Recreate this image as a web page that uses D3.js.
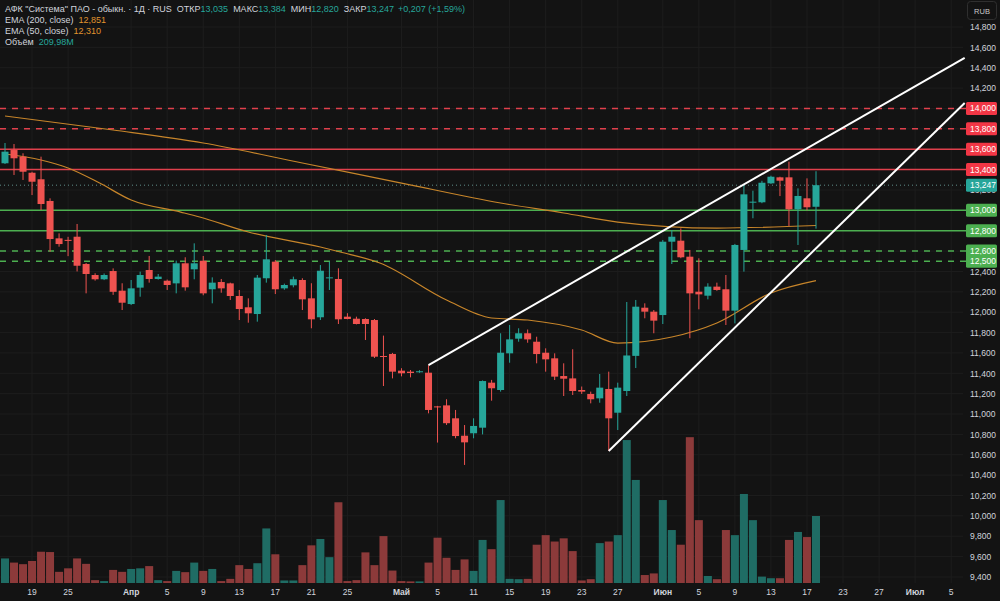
<!DOCTYPE html>
<html>
<head>
<meta charset="utf-8">
<script src="https://cdn.jsdelivr.net/npm/d3@7"></script>
<style>
  body { margin: 0; background: #131313; }
  svg { display: block; }
  text { font-family: "Liberation Sans", Arial, sans-serif; }
</style>
</head>
<body>
<div id="chart"></div>
<script>
// daily bars, index 0 = Mar 14, last = Jun 18
const open  = [13.462,13.592,13.527,13.369,13.305,13.092,12.725,12.710,12.741,12.473,
               12.365,12.323,12.404,12.211,12.080,12.241,12.414,12.326,12.309,12.283,
               12.480,12.421,12.505,12.225,12.296,12.283,12.159,12.048,11.982,12.333,
               12.496,12.234,12.264,12.316,12.136,11.950,12.335,12.326,11.956,11.936,
               11.933,11.923,11.570,11.590,11.426,11.416,11.410,11.406,11.075,11.085,
               10.958,10.787,10.811,10.866,11.308,11.236,11.596,11.740,11.793,11.710,
               11.602,11.547,11.373,11.350,11.236,11.197,11.154,11.246,11.013,11.226,
               11.571,12.044,12.005,11.972,12.692,12.702,12.545,12.201,12.162,12.251,
               12.225,12.015,12.611,13.080,13.079,13.265,13.324,13.324,13.010,13.118,
               13.035];
const high  = [13.661,13.651,13.560,13.379,13.527,13.118,12.774,12.740,12.866,12.483,
               12.382,12.380,12.430,12.284,12.316,12.398,12.552,12.375,12.320,12.506,
               12.539,12.676,12.552,12.342,12.326,12.290,12.218,12.136,12.365,12.758,
               12.512,12.280,12.349,12.333,12.284,12.463,12.496,12.431,11.990,11.956,
               11.940,11.933,11.770,11.600,11.450,11.432,11.430,11.480,11.080,11.145,
               11.040,10.892,10.958,11.330,11.335,11.793,11.874,11.842,11.830,11.759,
               11.645,11.596,11.498,11.636,11.270,11.220,11.393,11.416,11.308,12.100,
               12.120,12.087,12.021,12.709,12.807,12.823,12.611,12.529,12.284,12.290,
               12.365,12.670,13.249,13.193,13.290,13.340,13.330,13.478,13.216,13.314,
               13.384];
const low   = [13.455,13.347,13.298,13.150,13.003,12.594,12.643,12.550,12.400,12.185,
               12.310,12.315,12.170,12.021,12.070,12.152,12.290,12.320,12.218,12.185,
               12.211,12.323,12.166,12.087,12.191,12.120,11.923,11.897,11.907,12.290,
               12.178,12.220,12.244,12.021,11.842,11.923,12.218,11.884,11.930,11.880,
               11.727,11.550,11.275,11.350,11.370,11.360,11.405,11.007,10.720,10.893,
               10.762,10.500,10.762,10.800,11.131,11.220,11.504,11.710,11.700,11.498,
               11.416,11.334,11.177,11.187,11.197,11.105,11.111,10.637,10.843,11.177,
               11.452,11.940,11.793,11.884,12.473,12.530,11.744,12.028,12.126,12.210,
               11.874,11.890,12.398,12.922,13.070,13.260,13.140,12.846,12.660,13.000,
               12.820];
const close = [13.576,13.511,13.379,13.281,13.062,12.718,12.669,12.700,12.456,12.375,
               12.323,12.365,12.200,12.093,12.234,12.365,12.326,12.349,12.267,12.480,
               12.244,12.480,12.185,12.290,12.234,12.159,12.031,11.989,12.339,12.519,
               12.225,12.267,12.323,12.126,11.930,12.407,12.342,11.930,11.933,11.884,
               11.884,11.563,11.560,11.416,11.400,11.403,11.420,11.040,11.068,10.910,
               10.784,10.722,10.883,11.324,11.253,11.602,11.733,11.793,11.733,11.589,
               11.537,11.367,11.347,11.226,11.220,11.145,11.259,10.958,11.259,11.575,
               12.054,12.005,11.917,12.692,12.741,12.539,12.185,12.175,12.251,12.218,
               12.015,12.660,13.157,13.085,13.271,13.330,13.291,13.010,13.141,13.030,
               13.247];
// volume, millions
const volume = [77,64,59,69,98,97,35,46,77,60,
                9,6,41,35,44,46,53,9,6,38,
                34,64,38,44,6,13,56,44,62,171,
                90,8,8,56,118,138,81,253,6,9,
                96,56,147,39,6,5,5,64,142,79,
                41,74,38,135,106,260,13,12,13,120,
                150,130,140,100,8,12,125,130,150,448,
                323,25,30,260,166,120,457,197,22,12,
                166,150,279,197,20,15,15,135,160,144,
                210];

// EMA lines: [bar index, value]
const ema200 = [[0,13.926],[12,13.789],[22,13.661],[33,13.465],[44,13.268],
                [55,13.072],[62,12.974],[68,12.885],[79,12.826],[90,12.851]];
const ema50  = [[0,13.553],[4,13.494],[7,13.416],[10.5,13.268],[14,13.101],[19.5,12.983],
                [21.6,12.935],[27,12.787],[35,12.64],[37.2,12.591],[41.6,12.483],[49,12.12],
                [54,11.943],[58,11.923],[64,11.825],[68,11.697],[74,11.756],[79,11.894],
                [85,12.188],[90,12.310]];

// x-axis ticks (bar index) and labels
const xTickIdx    = [3,7,14,18,22,26,30,34,38,44,48,52,56,60,64,68,73,77,81,85,89,93,97,101,105];
const xTickLabels = ["19","25","Апр","5","9","13","17","21","25","Май","5","11","15","19","23","27","Июн","5","9","13","17","23","27","Июл","5"];
const monthLabels = ["Апр","Май","Июн","Июл"];

// horizontal levels
const levelsRed   = [14.0, 13.8, 13.6, 13.4];
const levelsRedDash = [true, true, false, false];
const levelsGreen = [13.0, 12.8, 12.6, 12.5];
const levelsGreenDash = [false, false, true, true];
const lastPrice = 13.247;

// trend channel
const trendUpper = [[47, 11.48], [106.5, 14.496]];
const trendLower = [[67, 10.637], [106.5, 14.054]];

const W = 1000, H = 601;
const plotRight = 963, plotBottom = 583;
const up = "#26a69a", down = "#ef5350";

const ru = d3.formatLocale({decimal: ",", thousands: " ", grouping: [3], currency: ["", ""]});
const fmt = ru.format(".3f");

const svg = d3.select("#chart").append("svg")
    .attr("width", W)
    .attr("height", H)
    .style("background", "#131313");

const x = d3.scaleLinear().domain([0, 90]).range([5, 816]);
const y = d3.scaleLinear().domain([9.4, 14.8]).range([577, 27]);
const yVol = d3.scaleLinear().domain([0, 500]).range([plotBottom, plotBottom - 500 / 3.134]);

const priceTicks = d3.range(94, 149, 2).map(d => d / 10);

// grid
svg.append("g").selectAll("line")
    .data(xTickIdx)
    .join("line")
    .attr("x1", d => x(d)).attr("x2", d => x(d))
    .attr("y1", 0).attr("y2", plotBottom)
    .attr("stroke", "#1d1d1d");
svg.append("g").selectAll("line")
    .data(priceTicks)
    .join("line")
    .attr("x1", 0).attr("x2", plotRight)
    .attr("y1", d => y(d)).attr("y2", d => y(d))
    .attr("stroke", "#1d1d1d");

// volume
const idx = d3.range(open.length);
svg.append("g").selectAll("rect")
    .data(idx)
    .join("rect")
    .attr("x", i => x(i) - 4)
    .attr("width", 8)
    .attr("y", i => yVol(volume[i]))
    .attr("height", i => plotBottom - yVol(volume[i]))
    .attr("fill", i => close[i] >= open[i] ? "#1f6c64" : "#8c3a3a");

// levels
function drawLevel(v, color, dashed) {
    svg.append("line")
        .attr("x1", 0).attr("x2", 966)
        .attr("y1", y(v)).attr("y2", y(v))
        .attr("stroke", color)
        .attr("stroke-width", 1.5)
        .attr("stroke-dasharray", dashed ? "6,6" : null);
}
levelsRed.forEach((v, k) => drawLevel(v, "#e0404c", levelsRedDash[k]));
levelsGreen.forEach((v, k) => drawLevel(v, "#4caf50", levelsGreenDash[k]));

// last price dotted line
svg.append("line")
    .attr("x1", 0).attr("x2", 966)
    .attr("y1", y(lastPrice)).attr("y2", y(lastPrice))
    .attr("stroke", "#5f8f8a")
    .attr("stroke-dasharray", "1,3");

// EMA lines
const emaLine = d3.line().x(d => x(d[0])).y(d => y(d[1])).curve(d3.curveMonotoneX);
svg.append("path").datum(ema200).attr("d", emaLine)
    .attr("fill", "none").attr("stroke", "#c7852a").attr("stroke-width", 1.2);
svg.append("path").datum(ema50).attr("d", emaLine)
    .attr("fill", "none").attr("stroke", "#c7852a").attr("stroke-width", 1.2);

// candles
const candles = svg.append("g").selectAll("g")
    .data(idx)
    .join("g");
candles.append("line")
    .attr("x1", i => x(i)).attr("x2", i => x(i))
    .attr("y1", i => y(high[i])).attr("y2", i => y(low[i]))
    .attr("stroke", i => close[i] >= open[i] ? up : down)
    .attr("stroke-width", 1);
candles.append("rect")
    .attr("x", i => x(i) - 3.5)
    .attr("width", 7)
    .attr("y", i => y(Math.max(open[i], close[i])))
    .attr("height", i => Math.max(1, Math.abs(y(open[i]) - y(close[i]))))
    .attr("fill", i => close[i] >= open[i] ? up : down);

// trend lines
[trendUpper, trendLower].forEach(t => {
    svg.append("line")
        .attr("x1", x(t[0][0])).attr("y1", y(t[0][1]))
        .attr("x2", x(t[1][0])).attr("y2", y(t[1][1]))
        .attr("stroke", "#ffffff")
        .attr("stroke-width", 2);
});

// price axis
const yAxis = d3.axisRight(y).tickValues(priceTicks).tickSize(0).tickPadding(0).tickFormat(fmt);
const gy = svg.append("g").attr("transform", "translate(970,0)").call(yAxis);
gy.select(".domain").remove();
gy.selectAll("text")
    .attr("fill", "#d1d4dc")
    .attr("font-size", 8.5)
    .attr("font-family", "Liberation Sans, Arial, sans-serif");

// level labels on the axis
function axisLabel(v, color) {
    svg.append("rect")
        .attr("x", 966).attr("y", y(v) - 6.5)
        .attr("width", 31).attr("height", 13)
        .attr("rx", 1.5)
        .attr("fill", color);
    svg.append("text")
        .attr("x", 970).attr("y", y(v) + 3)
        .attr("fill", "#ffffff")
        .attr("font-size", 8.5)
        .text(fmt(v));
}
levelsRed.forEach(v => axisLabel(v, "#f23645"));
levelsGreen.forEach(v => axisLabel(v, "#4caf50"));
axisLabel(lastPrice, up);

// RUB button
svg.append("rect")
    .attr("x", 967.5).attr("y", 1.5).attr("width", 29).attr("height", 18)
    .attr("rx", 3).attr("fill", "#131313").attr("stroke", "#2f2f2f");
svg.append("text")
    .attr("x", 982).attr("y", 13.5).attr("text-anchor", "middle")
    .attr("fill", "#c8c8c8").attr("font-size", 7.5).text("RUB");

// date axis
svg.append("g").selectAll("text")
    .data(xTickIdx)
    .join("text")
    .attr("x", d => x(d))
    .attr("y", 595)
    .attr("text-anchor", "middle")
    .attr("fill", "#d1d4dc")
    .attr("font-size", 8.5)
    .attr("font-weight", (d, k) => monthLabels.includes(xTickLabels[k]) ? "bold" : "normal")
    .text((d, k) => xTickLabels[k]);

// legend
const legendFont = 9;
const t1 = svg.append("text").attr("x", 5).attr("y", 12).attr("font-size", legendFont).attr("fill", "#d1d4dc");
t1.append("tspan").text("АФК \"Система\" ПАО - обыкн. · 1Д · RUS");
const ohlc = [["ОТКР", open[90]], ["МАКС", high[90]], ["МИН", low[90]], ["ЗАКР", close[90]]];
ohlc.forEach(([k, v]) => {
    t1.append("tspan").attr("dx", 5).text(k);
    t1.append("tspan").attr("fill", up).text(fmt(v));
});
t1.append("tspan").attr("dx", 4).attr("fill", up).text("+0,207 (+1,59%)");

const t2 = svg.append("text").attr("x", 5).attr("y", 23).attr("font-size", legendFont).attr("fill", "#d1d4dc");
t2.append("tspan").text("EMA (200, close)");
t2.append("tspan").attr("dx", 5).attr("fill", "#e0932e").text(fmt(ema200[ema200.length - 1][1]));

const t3 = svg.append("text").attr("x", 5).attr("y", 34).attr("font-size", legendFont).attr("fill", "#d1d4dc");
t3.append("tspan").text("EMA (50, close)");
t3.append("tspan").attr("dx", 5).attr("fill", "#e0932e").text(fmt(ema50[ema50.length - 1][1]));

const t4 = svg.append("text").attr("x", 5).attr("y", 45).attr("font-size", legendFont).attr("fill", "#d1d4dc");
t4.append("tspan").text("Объём");
t4.append("tspan").attr("dx", 5).attr("fill", up).text("209,98M");
</script>
</body>
</html>
